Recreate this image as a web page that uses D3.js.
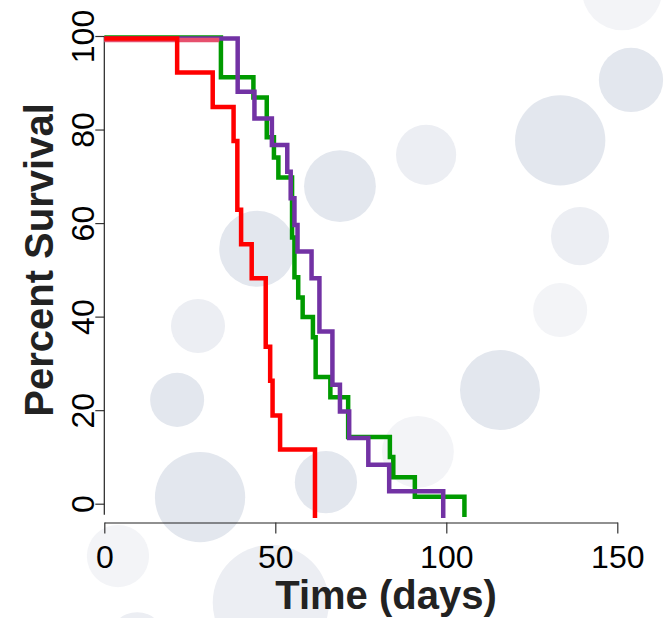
<!DOCTYPE html>
<html>
<head>
<meta charset="utf-8">
<script src="https://cdn.jsdelivr.net/npm/d3@7"></script>
<style>
  html, body { margin: 0; padding: 0; background: #fff; }
  svg { display: block; }
  .tick text { font-family: "Liberation Sans", Arial, sans-serif; font-size: 32px; fill: #000; }
  .axis-title { font-family: "Liberation Sans", Arial, sans-serif; font-size: 40px; font-weight: bold; fill: #222; }
</style>
</head>
<body>
<div id="chart"></div>
<script>
// survival data (time in days, percent surviving)
const redTimes = [0, 21.3, 31.7, 37.8, 38.9, 40.0, 43.1, 47.2, 48.5, 49.2, 51.4, 61.6];
const redSurv = [100, 92.9, 85.7, 78.6, 64.3, 57.1, 50.0, 35.7, 28.6, 21.4, 14.3, 0];

const greenTimes = [0, 34.1, 43.6, 47.5, 49.6, 50.9, 54.9, 55.6, 56.7, 58.0, 61.0, 61.8, 66.1, 71.3, 83.5, 84.5, 90.8, 105.3];
const greenSurv = [100, 91.7, 87.5, 79.2, 75.0, 70.8, 58.3, 50.0, 45.8, 41.7, 37.5, 29.2, 25.0, 16.7, 12.5, 8.3, 4.2, 0];

const purpleTimes = [0, 39.0, 43.9, 49.0, 53.5, 54.5, 55.6, 56.5, 60.6, 62.9, 66.7, 68.9, 71.6, 77.2, 83.3, 99.1];
const purpleSurv = [100, 88.9, 83.3, 77.8, 72.2, 66.7, 61.1, 55.6, 50.0, 38.9, 27.8, 22.2, 16.7, 11.1, 5.6, 0];

const pinkTimes = [0, 33.6];
const pinkSurv = [100, 100];

const xTicks = [0, 50, 100, 150];
const yTicks = [0, 20, 40, 60, 80, 100];

// background bubbles: centre (days, percent), radius (days), shade
const bubbleT = [111.9, 151.4, 154.0, 133.3, 94.1, 68.9, 139.1, 44.7, 27.4, 133.3, 115.7, 21.3, 91.7, 28.0, 64.8, 48.7, 4.0, 9.6];
const bubbleV = [142.5, 109.8, 90.6, 77.7, 74.6, 67.9, 57.2, 54.5, 38.0, 41.4, 24.3, 22.2, 11.1, 1.4, 4.6, -21.2, -11.2, -29.2];
const bubbleR = [17.0, 11.7, 9.4, 13.2, 8.8, 10.5, 8.5, 11.1, 7.9, 7.9, 11.7, 7.9, 10.5, 13.2, 9.1, 17.0, 9.1, 8.2];
const bubbleShade = [0, 2, 0, 0, 1, 0, 1, 0, 1, 2, 0, 0, 2, 0, 0, 1, 2, 1];

document.addEventListener("DOMContentLoaded", function () {
    const width = 669, height = 618;
    const shades = ["#e3e7ee", "#eceef3", "#f3f4f7"];

    const svg = d3.select("#chart").append("svg")
        .attr("width", width)
        .attr("height", height);

    svg.append("rect").attr("width", width).attr("height", height).attr("fill", "#fff");

    // scales for the axes
    const x = d3.scaleLinear().domain([0, 150]).range([104.3, 617.3]);
    const yAxisScale = d3.scaleLinear().domain([0, 100]).range([503.7, 36]);
    // the curves sit on a slightly different vertical scale than the axis
    const yCurve = d3.scaleLinear().domain([0, 100]).range([518, 38.5]);

    // bubbles behind everything
    svg.append("g").selectAll("circle")
        .data(bubbleT.map((t, i) => ({ t: t, v: bubbleV[i], r: bubbleR[i], s: bubbleShade[i] })))
        .join("circle")
        .attr("cx", d => x(d.t))
        .attr("cy", d => yAxisScale(d.v))
        .attr("r", d => x(d.r) - x(0))
        .attr("fill", d => shades[d.s]);

    // y axis
    const yAxis = svg.append("g")
        .attr("transform", "translate(104.3,0)")
        .call(d3.axisLeft(yAxisScale).tickValues(yTicks).tickSize(9).tickSizeOuter(0));
    yAxis.select(".domain").remove();
    yAxis.selectAll(".tick line").attr("stroke", "#333").attr("stroke-width", 1.2);
    yAxis.selectAll(".tick text")
        .attr("x", 0).attr("y", 0).attr("dy", 0)
        .attr("text-anchor", "middle")
        .attr("transform", "translate(-10,0) rotate(-90)");
    yAxis.append("line")
        .attr("x1", 0).attr("x2", 0)
        .attr("y1", yAxisScale(100)).attr("y2", yAxisScale(0) + 11)
        .attr("stroke", "#222").attr("stroke-width", 1.2);

    // x axis
    const xAxis = svg.append("g")
        .attr("transform", "translate(0,522.5)")
        .call(d3.axisBottom(x).tickValues(xTicks).tickSize(11).tickSizeOuter(0));
    xAxis.select(".domain").attr("stroke", "#222").attr("stroke-width", 1.2);
    xAxis.selectAll(".tick line").attr("stroke", "#333").attr("stroke-width", 1.2);
    xAxis.selectAll(".tick text").attr("y", 45.5).attr("dy", 0);

    // axis titles
    svg.append("text")
        .attr("class", "axis-title")
        .attr("x", 386).attr("y", 609)
        .attr("text-anchor", "middle")
        .text("Time (days)");
    svg.append("text")
        .attr("class", "axis-title")
        .attr("transform", "translate(53,260) rotate(-90)")
        .attr("text-anchor", "middle")
        .text("Percent Survival");

    // survival curves
    const series = [
        { times: greenTimes, surv: greenSurv, color: "#009a00", dy: -1 },
        { times: purpleTimes, surv: purpleSurv, color: "#7232a4", dy: 0 },
        { times: pinkTimes, surv: pinkSurv, color: "#e6506e", dy: 1.5 },
        { times: redTimes, surv: redSurv, color: "#ff0000", dy: 0 }
    ];

    const line = d3.line()
        .x(d => x(d[0]))
        .y(d => yCurve(d[1]))
        .curve(d3.curveStepAfter);

    svg.append("g").selectAll("path")
        .data(series)
        .join("path")
        .attr("transform", d => `translate(0,${d.dy})`)
        .attr("d", d => line(d.times.map((t, i) => [t, d.surv[i]])))
        .attr("fill", "none")
        .attr("stroke", d => d.color)
        .attr("stroke-width", 4.5)
        .attr("stroke-linejoin", "miter");
});
</script>
</body>
</html>
